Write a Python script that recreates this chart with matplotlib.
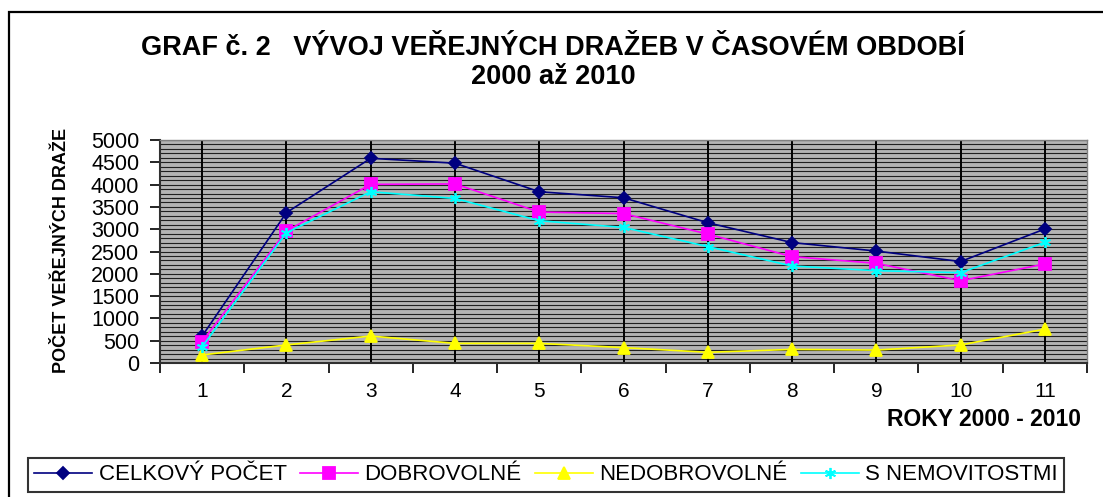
import matplotlib
matplotlib.use('Agg')
import matplotlib.pyplot as plt
from matplotlib.patches import Rectangle
from matplotlib.ticker import MultipleLocator

plt.rcParams['font.family'] = ['Liberation Sans', 'DejaVu Sans']

years = list(range(1, 12))
celkovy = [605, 3370, 4590, 4480, 3840, 3705, 3145, 2700, 2510, 2275, 3005]
dobrovolne = [480, 2960, 4005, 4015, 3385, 3350, 2890, 2385, 2235, 1845, 2220]
nedobrovolne = [180, 405, 605, 440, 440, 345, 240, 305, 290, 405, 760]
nemovitosti = [365, 2920, 3840, 3690, 3190, 3040, 2610, 2175, 2070, 2025, 2705]
labels = ['CELKOVÝ POČET', 'DOBROVOLNÉ', 'NEDOBROVOLNÉ', 'S NEMOVITOSTMI']

W, H = 1103, 497
fig = plt.figure(figsize=(W / 100, H / 100), dpi=100)

# outer chart border (clipped on right and bottom)
fig.patches.append(Rectangle((9 / W, -0.2), 1.2, (H - 12) / H + 0.2,
                             transform=fig.transFigure, fill=False,
                             edgecolor='black', linewidth=1.6))

ax = fig.add_axes([160 / W, (H - 363) / H, (1087 - 160) / W, (363 - 140) / H])
ax.set_facecolor('#b4b4b4')

series = [
    (celkovy, '#000080', 'D', 6),
    (dobrovolne, '#ff00ff', 's', 8),
    (nedobrovolne, '#ffff00', '^', 9),
    (nemovitosti, '#00ffff', (6, 2, 0), 8),
]
handles = []
for (vals, col, mk, ms), lab in zip(series, labels):
    h, = ax.plot(years, vals, color=col, marker=mk, markersize=ms,
                 markerfacecolor=col, markeredgecolor=col, markeredgewidth=1.3,
                 linewidth=1.2, label=lab, zorder=3)
    handles.append(h)

ax.set_xlim(0.5, 11.5)
ax.set_ylim(0, 5000)
ax.yaxis.set_major_locator(MultipleLocator(500))
ax.yaxis.set_minor_locator(MultipleLocator(100))
ax.grid(axis='y', which='both', color='#202020', linewidth=0.8, zorder=1)
for x in years:
    ax.axvline(x, color='black', linewidth=1.4, zorder=2)

ax.set_xticks([i + 0.5 for i in range(0, 12)])
ax.set_xticklabels([])
ax.set_xticks(years, minor=True)
ax.set_xticklabels([str(y) for y in years], minor=True)
ax.tick_params(axis='x', which='minor', length=0, pad=14, labelsize=15)
ax.tick_params(axis='x', which='major', length=7, width=1.2, direction='out')
ax.tick_params(axis='y', which='major', length=7, width=1.2, direction='out',
               labelsize=15.5, pad=8)
ax.tick_params(axis='y', which='minor', length=0)
for s in ['top', 'right']:
    ax.spines[s].set_color('#808080')
    ax.spines[s].set_linewidth(1.0)
for s in ['left', 'bottom']:
    ax.spines[s].set_color('#303030')
    ax.spines[s].set_linewidth(1.5)

fig.text(553 / W, 1 - 48 / H, 'GRAF č. 2   VÝVOJ VEŘEJNÝCH DRAŽEB V ČASOVÉM OBDOBÍ',
         ha='center', va='center', fontsize=19.5, fontweight='bold')
fig.text(553 / W, 1 - 77 / H, '2000 až 2010',
         ha='center', va='center', fontsize=19.5, fontweight='bold')
fig.text(62 / W, 1 - 250 / H, 'POČET VEŘEJNÝCH DRAŽE', rotation=90,
         ha='center', va='center', fontsize=13, fontweight='bold')
fig.text(984 / W, 1 - 420 / H, 'ROKY 2000 - 2010',
         ha='center', va='center', fontsize=16.5, fontweight='bold')

leg = fig.legend(handles=handles, loc='center', ncol=4,
                 bbox_to_anchor=(546 / W, 1 - 475 / H), fontsize=16,
                 frameon=True, fancybox=False, edgecolor='black',
                 handlelength=2.6, handletextpad=0.3, columnspacing=0.6,
                 borderpad=0.3)
leg.get_frame().set_linewidth(1.5)

fig.savefig('out.png', dpi=100)
